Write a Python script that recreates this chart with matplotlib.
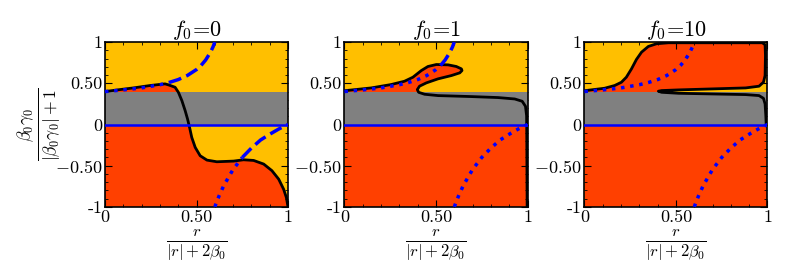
import numpy as np
import matplotlib
matplotlib.use('Agg')
import matplotlib.pyplot as plt

plt.rcParams['font.family'] = 'serif'
plt.rcParams['font.serif'] = ['cmr10']
plt.rcParams['mathtext.fontset'] = 'cm'
plt.rcParams['axes.unicode_minus'] = False
plt.rcParams['axes.formatter.use_mathtext'] = True

# colours of the regions
orange = '#FFBF00'
red = '#FF4000'
grey = '#808080'

f0_values = [0, 1, 10]

# blue curve, upper branch (x, y)
blue_up_x = [0, 0.1, 0.2, 0.3, 0.35, 0.4, 0.45, 0.5, 0.525, 0.55, 0.575, 0.59, 0.6]
blue_up_y = [0.40, 0.42, 0.444, 0.483, 0.51, 0.545, 0.595, 0.667, 0.717, 0.783, 0.872, 0.94, 1.0]
# blue curve, lower branch
blue_lo_x = [0.6, 0.61, 0.625, 0.65, 0.7, 0.75, 0.8, 0.85, 0.9, 0.95, 1.0]
blue_lo_y = [-1.0, -0.94, -0.857, -0.737, -0.545, -0.40, -0.286, -0.188, -0.118, -0.054, 0.0]
# where the blue curves change from dotted to dashed (None = dotted all along)
split_up = [0.35, 0.525, None]
split_lo = [0.75, None, None]

# black boundary curves, one per panel
black_x_0 = [0, 0.082, 0.155, 0.246, 0.31, 0.328, 0.347, 0.383, 0.401, 0.42, 0.438, 0.451, 0.462,
             0.474, 0.493, 0.52, 0.557, 0.611, 0.703, 0.757, 0.812, 0.867, 0.912, 0.949, 0.976,
             0.991, 1.0]
black_y_0 = [0.40, 0.424, 0.444, 0.473, 0.489, 0.493, 0.481, 0.452, 0.391, 0.29, 0.168, 0.067,
             -0.034, -0.156, -0.278, -0.379, -0.432, -0.452, -0.444, -0.428, -0.436, -0.48, -0.56,
             -0.663, -0.785, -0.886, -1.0]

black_x_1 = [0, 0.146, 0.255, 0.328, 0.374, 0.42, 0.456, 0.502, 0.566, 0.611, 0.639, 0.642, 0.63,
             0.584, 0.511, 0.447, 0.41, 0.398, 0.405, 0.438, 0.511, 0.693, 0.839, 0.93, 0.971,
             0.989, 0.995, 0.996, 0.998]
black_y_1 = [0.41, 0.444, 0.485, 0.525, 0.574, 0.655, 0.704, 0.728, 0.724, 0.704, 0.675, 0.655,
             0.627, 0.594, 0.554, 0.505, 0.465, 0.424, 0.391, 0.367, 0.351, 0.339, 0.327, 0.31,
             0.282, 0.221, 0.108, -0.136, -1.0]

black_x_2 = [0, 0.11, 0.165, 0.202, 0.229, 0.257, 0.284, 0.312, 0.349, 0.394, 0.459, 0.697, 0.972,
             0.987, 0.989, 0.987, 0.978, 0.954, 0.881, 0.697, 0.514, 0.422, 0.404, 0.422, 0.514,
             0.697, 0.881, 0.954, 0.978, 0.987, 0.991, 0.993]
black_y_2 = [0.41, 0.44, 0.473, 0.513, 0.574, 0.675, 0.789, 0.878, 0.947, 0.98, 0.992, 0.992,
             0.992, 0.968, 0.838, 0.594, 0.513, 0.465, 0.444, 0.432, 0.42, 0.412, 0.404, 0.391,
             0.379, 0.371, 0.363, 0.351, 0.318, 0.25, 0.108, 0.0]

black_x = [black_x_0, black_x_1, black_x_2]
black_y = [black_y_0, black_y_1, black_y_2]

fig = plt.figure(figsize=(7.93, 2.77), dpi=100)
lefts = [0.1324, 0.4344, 0.737]

for i, f0 in enumerate(f0_values):
	ax = fig.add_axes([lefts[i], 0.253, 0.2308, 0.595])
	ax.set_facecolor(orange)
	bx = black_x[i]
	by = black_y[i]
	# region under the black curve
	px = bx + [1.0, 0.0]
	py = by + [-1.0, -1.0]
	ax.fill(px, py, color=red, lw=0, zorder=1)
	ax.axhspan(0, 0.4, color=grey, lw=0, zorder=2)
	ax.plot(bx, by, 'k-', lw=2, zorder=3)
	ax.axhline(0, color='b', lw=1.8, zorder=4)

	ux = np.array(blue_up_x)
	uy = np.array(blue_up_y)
	lx = np.array(blue_lo_x)
	ly = np.array(blue_lo_y)
	if split_up[i] is None:
		ax.plot(ux, uy, 'b:', lw=2.5, zorder=5)
	else:
		m = ux <= split_up[i]
		ax.plot(ux[m], uy[m], 'b:', lw=2.5, zorder=5)
		m = ux >= split_up[i]
		ax.plot(ux[m], uy[m], 'b--', lw=2.5, zorder=5)
	if split_lo[i] is None:
		ax.plot(lx, ly, 'b:', lw=2.5, zorder=5)
	else:
		m = lx <= split_lo[i]
		ax.plot(lx[m], ly[m], 'b:', lw=2.5, zorder=5)
		m = lx >= split_lo[i]
		ax.plot(lx[m], ly[m], 'b--', lw=2.5, zorder=5)

	ax.set_xlim(0, 1)
	ax.set_ylim(-1, 1)
	ax.set_xticks([0, 0.5, 1])
	ax.set_xticklabels(['0', '0.50', '1'])
	ax.set_yticks([-1, -0.5, 0, 0.5, 1])
	ax.set_yticklabels(['-1', '$-0.50$', '0', '0.50', '1'])
	ax.set_xticks(np.arange(0, 1.01, 0.1), minor=True)
	ax.set_yticks(np.arange(-1, 1.01, 0.1), minor=True)
	ax.tick_params(which='both', direction='in', top=True, right=True, labelsize=13, pad=2)
	ax.tick_params(which='major', length=5)
	ax.tick_params(which='minor', length=2.5)
	for s in ax.spines.values():
		s.set_linewidth(1.2)
	ax.set_title('$f_0$=%i' % f0, fontsize=16, pad=1)
	ax.set_xlabel(r'$\frac{r}{|r|+2\beta_0}$', fontsize=17, labelpad=2)
	if i == 0:
		ax.set_ylabel(r'$\frac{\beta_0\gamma_0}{|\beta_0\gamma_0|+1}$', fontsize=18, labelpad=-6)

plt.savefig('out.png', dpi=100)
